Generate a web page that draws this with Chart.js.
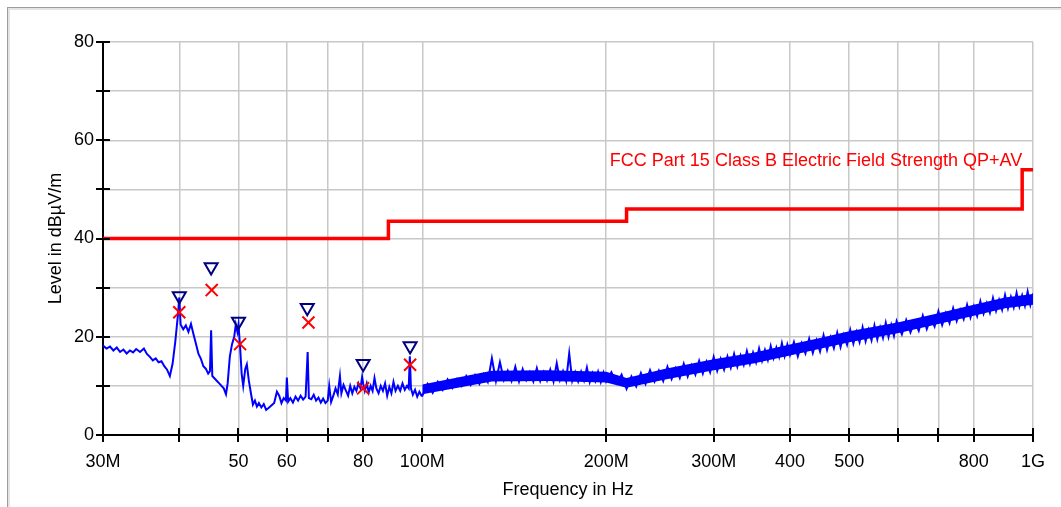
<!DOCTYPE html>
<html lang="en">
  <head>
    <meta charset="UTF-8" />
    <title>Radiated emission scan - FCC Part 15 Class B</title>
    <script src="https://cdn.jsdelivr.net/npm/chart.js"></script>
    <style>
      html, body { margin: 0; padding: 0; background: #fff; overflow: hidden; }
      #frame {
        position: absolute; left: 7px; top: 7px; width: 1100px; height: 560px;
        border: 1px solid #9c9c9c; box-shadow: inset 2px 2px 0 #e4e4e4;
      }
      #myChart { position: absolute; left: 0; top: 0; }
    </style>
  </head>
  <body>
    <div id="frame"></div>
    <canvas id="myChart" width="1061" height="507"></canvas>

    <script>
      // frequencies in MHz, levels in dBµV/m
      const traceFreq = [
        30, 30.4, 30.8, 31.2, 31.6, 32.0, 32.4, 32.8, 33.2, 33.6,
        34.0, 34.5, 35.0, 35.4, 35.8, 36.2, 36.6, 37.0, 37.4, 37.8,
        38.2, 38.6, 39.0, 39.4, 39.8, 40.0, 40.2, 40.6, 41.0, 41.4,
        41.8, 42.2, 42.6, 43.0, 43.4, 43.8, 44.2, 44.6, 44.9, 45.1,
        45.3, 45.7, 46.1, 46.5, 46.9, 47.3, 47.7, 48.0, 48.4, 48.8,
        49.2, 49.5, 49.8, 50.0, 50.3, 50.6, 50.9, 51.3, 51.6, 52.0,
        52.4, 52.8, 53.2, 53.6, 54.0, 54.5, 55.0, 55.5, 56.0, 56.6,
        57.2, 57.8, 58.3, 58.8, 59.3, 59.8, 60.0, 60.3, 60.8, 61.4,
        62.0, 62.6, 63.2, 63.8, 64.4, 64.9, 65.2, 65.8, 66.4, 67.0,
        67.6, 68.2, 68.8, 69.4, 70.0, 70.4, 70.9, 71.5, 72.1, 72.7,
        73.3, 73.7, 74.3, 75.0, 75.6, 76.2, 76.8, 77.4, 78.0, 78.6,
        79.2, 79.7, 80.0, 80.5, 81.1, 81.7, 82.3, 82.9, 83.5, 84.1,
        84.8, 85.5, 86.2, 86.9, 87.6, 88.3, 89.0, 89.7, 90.4, 91.2,
        92.0, 92.8, 93.6, 94.4, 95.0, 95.4, 95.8, 96.5, 97.3, 98.1,
        98.9, 99.7,
        100, 102, 104, 106, 108, 110, 112, 114, 116, 118,
        120, 122, 124, 126, 128, 130, 132, 134, 136, 138,
        140, 142, 144, 146, 148, 150, 152, 154, 156, 158,
        160, 162, 164, 166, 168, 170, 172, 174, 176, 178,
        180, 182, 184, 186, 188, 190, 192, 194, 196, 198,
        200,
        204, 208, 212, 216, 220, 224, 228, 232, 236, 240,
        244, 248, 252, 256, 260, 264, 268, 272, 276, 280,
        284, 288, 292, 296, 300, 304, 308, 312, 316, 320,
        324, 328, 332, 336, 340, 344, 348, 352, 356, 360,
        364, 368, 372, 376, 380, 384, 388, 392, 396, 400,
        406, 412, 418, 424, 430, 436, 442, 448, 454, 460,
        466, 472, 478, 484, 490, 496, 502, 508, 514, 520,
        526, 532, 538, 544, 550, 556, 562, 568, 574, 580,
        586, 592, 598,
        610, 620, 630, 640, 650, 660, 670, 680, 690, 700,
        710, 720, 730, 740, 750, 760, 770, 780, 790, 800,
        810, 820, 830, 840, 850, 860, 870, 880, 890, 900,
        910, 920, 930, 940, 950, 960, 970, 980, 990, 1000
      ];
      const traceLevel = [
        18.2, 17.6, 18.0, 17.2, 17.8, 16.9, 17.4, 16.6, 17.2, 16.8,
        17.5, 16.9, 17.6, 16.5, 15.9, 15.2, 15.6, 14.8, 15.0, 14.0,
        13.3, 12.0, 14.5, 19.0, 24.5, 28.0, 22.5, 21.5, 22.3, 21.0,
        22.6, 20.5, 18.5, 16.5, 15.5, 14.0, 13.5, 12.5, 13.0, 21.3,
        12.0, 11.5, 11.0, 10.5, 10.0, 9.5, 8.3, 10.5, 16.0, 18.5,
        20.0, 22.5, 21.0, 22.5, 18.0, 12.5, 10.0, 13.5, 14.4, 11.0,
        8.5, 6.2, 7.0, 5.8, 6.5, 5.6, 6.3, 5.1, 5.5, 6.0,
        6.5, 8.8, 8.0, 6.5, 7.5, 7.0, 11.7, 6.8, 7.5, 6.6,
        7.8, 7.0, 8.0, 7.2, 7.8, 16.9, 7.5, 7.3, 8.2, 7.0,
        7.6, 6.6, 7.4, 6.5, 7.0, 10.0, 6.7, 8.0, 9.5, 8.3,
        12.0, 8.5, 10.2, 9.0, 8.0, 10.0, 8.5, 9.8, 9.0, 10.5,
        9.5, 11.8, 10.5, 9.0, 10.5, 8.7, 10.0, 9.0, 11.6, 9.5,
        8.5, 10.0, 9.0, 10.5, 8.0, 9.8, 8.5, 10.8, 9.0, 10.0,
        9.0, 10.5, 9.2, 10.0, 9.5, 16.0, 9.5, 8.2, 9.2, 7.8,
        8.8, 8.0,
        8.0, 10.4, 8.6, 10.8, 9.2, 11.3, 9.6, 11.4, 10.0, 12.0,
        10.2, 12.2, 10.4, 12.4, 10.8, 15.6, 11.0, 14.8, 11.2, 13.1,
        11.0, 13.9, 10.9, 13.4, 11.2, 12.8, 10.9, 13.6, 11.0, 12.8,
        11.1, 13.3, 10.9, 14.6, 11.2, 13.0, 11.0, 16.6, 11.0, 12.8,
        10.9, 12.9, 11.1, 13.7, 10.8, 12.6, 11.0, 12.9, 10.8, 12.7,
        10.9,
        12.8, 10.5, 12.3, 9.4, 11.9, 9.9, 12.6, 10.4, 13.2, 10.9,
        13.1, 11.0, 13.9, 11.4, 13.6, 11.6, 14.5, 11.9, 14.2, 12.3,
        15.1, 12.5, 14.9, 12.8, 15.9, 13.1, 15.5, 13.3, 16.0, 13.7,
        16.5, 13.9, 16.2, 14.3, 17.1, 14.5, 16.8, 14.8, 17.6, 15.1,
        17.3, 15.3, 18.1, 15.7, 17.8, 15.9, 18.7, 16.1, 18.4, 16.3,
        18.9, 16.0, 18.7, 16.6, 19.6, 16.7, 19.3, 17.0, 20.3, 17.3,
        19.9, 17.7, 20.8, 17.9, 20.4, 18.4, 21.4, 18.6, 21.0, 18.9,
        21.9, 19.1, 21.4, 19.3, 22.3, 19.5, 21.9, 19.8, 22.8, 20.0,
        22.4, 20.2, 23.2,
        20.5, 23.4, 20.9, 23.1, 21.2, 24.3, 21.6, 23.9, 22.1, 25.2,
        22.4, 24.8, 22.8, 25.8, 23.2, 25.5, 23.6, 26.5, 23.9, 26.2,
        24.2, 27.2, 24.7, 26.8, 24.9, 27.9, 25.3, 27.5, 25.5, 28.5,
        25.8, 28.1, 26.0, 28.9, 26.2, 28.4, 26.3, 29.2, 26.5, 28.8
      ];

      // solid body of the noise band above 100 MHz
      const bandFreq = [100, 130, 160, 200, 216, 250, 300, 350, 400, 450, 500, 600, 700, 800, 900, 1000];
      const bandLow  = [8.3, 10.9, 11.0, 10.7, 9.6, 11.3, 13.2, 14.6, 16.2, 17.6, 18.9, 20.7, 22.6, 24.3, 25.8, 26.5];
      const bandHigh = [10.3, 13.1, 13.2, 12.9, 11.6, 13.5, 15.4, 16.8, 18.4, 19.8, 21.1, 22.9, 24.8, 26.5, 28.0, 28.7];

      const limitName = 'FCC Part 15 Class B Electric Field Strength QP+AV';
      const limitFreq  = [30, 88, 88, 216, 216, 960, 960, 1000];
      const limitLevel = [40, 40, 43.5, 43.5, 46, 46, 54, 54];

      // final measurement markers
      const peakFreq  = [40, 45.1, 50, 64.8, 80, 95.5];
      const peakLevel = [28.3, 34.2, 23.1, 25.9, 14.5, 18.1];
      const qpFreq    = [40, 45.2, 50.3, 65.1, 80, 95.5];
      const qpLevel   = [25.0, 29.5, 18.5, 22.9, 9.5, 14.3];

      const xTickValues = [30, 40, 50, 60, 70, 80, 100, 200, 300, 400, 500, 600, 700, 800, 1000];
      const xTickLabels = ['30M', '', '50', '60', '', '80', '100M', '200M', '300M', '400', '500', '', '', '800', '1G'];
      const yTickValues = [0, 10, 20, 30, 40, 50, 60, 70, 80];
      const yTickLabels = ['0', '', '20', '', '40', '', '60', '', '80'];

      const pts = (xs, ys) => xs.map((x, i) => ({ x: x, y: ys[i] }));

      // ticks that cross the axis lines, like the analyser printout
      const crossTicks = {
        id: 'crossTicks',
        afterDraw(chart) {
          const { ctx, chartArea, scales: { x, y } } = chart;
          ctx.save();
          ctx.strokeStyle = '#000';
          ctx.lineWidth = 2;
          ctx.beginPath();
          xTickValues.forEach(v => {
            const px = Math.round(x.getPixelForValue(v));
            ctx.moveTo(px, chartArea.bottom - 7);
            ctx.lineTo(px, chartArea.bottom + 7);
          });
          yTickValues.forEach(v => {
            const py = Math.round(y.getPixelForValue(v));
            ctx.moveTo(chartArea.left - 7, py);
            ctx.lineTo(chartArea.left + 7, py);
          });
          ctx.stroke();
          ctx.restore();
        }
      };

      const limitLabel = {
        id: 'limitLabel',
        afterDatasetsDraw(chart) {
          const { ctx, scales: { x, y } } = chart;
          const n = limitFreq.length;
          const px = x.getPixelForValue(limitFreq[n - 2]);
          const py = y.getPixelForValue(limitLevel[n - 1]);
          ctx.save();
          ctx.font = '18px "Liberation Sans", Arial, sans-serif';
          ctx.fillStyle = '#ff0000';
          ctx.textAlign = 'right';
          ctx.textBaseline = 'alphabetic';
          ctx.fillText(limitName, px, py - 4);
          ctx.restore();
        }
      };

      Chart.defaults.font.family = '"Liberation Sans", Arial, sans-serif';
      Chart.defaults.font.size = 18;
      Chart.defaults.color = '#000';

      const ctx = document.getElementById('myChart').getContext('2d');
      const myChart = new Chart(ctx, {
        type: 'line',
        data: {
          datasets: [
            {
              label: 'QP',
              data: pts(qpFreq, qpLevel),
              showLine: false,
              pointStyle: 'crossRot',
              pointRadius: 8.5,
              pointBorderWidth: 2,
              pointBorderColor: '#ff0000',
              borderColor: '#ff0000'
            },
            {
              label: 'Peak',
              data: pts(peakFreq, peakLevel),
              showLine: false,
              pointStyle: 'triangle',
              pointRotation: 180,
              pointRadius: 7.5,
              pointBorderWidth: 2,
              pointBorderColor: '#000080',
              pointBackgroundColor: 'rgba(0,0,0,0)',
              borderColor: '#000080'
            },
            {
              label: limitName,
              data: pts(limitFreq, limitLevel),
              borderColor: '#ff0000',
              borderWidth: 3.5,
              pointRadius: 0,
              fill: false
            },
            {
              label: 'Preview Result',
              data: pts(traceFreq, traceLevel),
              borderColor: '#0000ff',
              borderWidth: 2,
              pointRadius: 0,
              fill: false
            },
            {
              label: 'band low',
              data: pts(bandFreq, bandLow),
              borderWidth: 0,
              pointRadius: 0,
              fill: false
            },
            {
              label: 'band high',
              data: pts(bandFreq, bandHigh),
              borderWidth: 0,
              pointRadius: 0,
              backgroundColor: '#0000ff',
              fill: '-1'
            }
          ]
        },
        options: {
          responsive: false,
          animation: false,
          layout: { padding: { left: 0, top: 42, right: 28, bottom: 0 } },
          plugins: {
            legend: { display: false },
            tooltip: { enabled: false }
          },
          scales: {
            x: {
              type: 'logarithmic',
              min: 30,
              max: 1000,
              afterBuildTicks: s => { s.ticks = xTickValues.map(v => ({ value: v })); },
              afterFit: s => { s.height = 72; },
              ticks: {
                autoSkip: false,
                maxRotation: 0,
                padding: 16,
                callback: v => xTickLabels[xTickValues.indexOf(v)]
              },
              grid: { color: '#c8c8c8', lineWidth: 1.5, drawTicks: false },
              border: { display: true, color: '#000', width: 2 },
              title: { display: true, text: 'Frequency in Hz', padding: { top: 0, bottom: 6 } }
            },
            y: {
              min: 0,
              max: 80,
              afterBuildTicks: s => { s.ticks = yTickValues.map(v => ({ value: v })); },
              afterFit: s => { s.width = 103; },
              ticks: {
                padding: 9,
                callback: v => yTickLabels[yTickValues.indexOf(v)]
              },
              grid: { color: '#c8c8c8', lineWidth: 1.5, drawTicks: false },
              border: { display: true, color: '#000', width: 2 },
              title: { display: true, text: 'Level in dBµV/m', padding: { top: 45, bottom: 0 } }
            }
          }
        },
        plugins: [crossTicks, limitLabel]
      });
    </script>
  </body>
</html>
